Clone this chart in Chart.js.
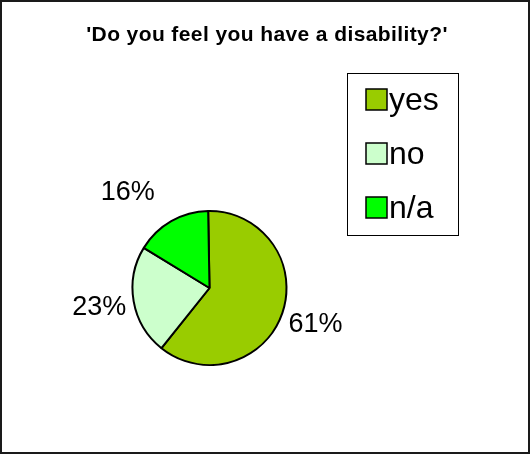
<!DOCTYPE html>
<html>
<head>
<meta charset="utf-8">
<script src="https://cdn.jsdelivr.net/npm/chart.js@4/dist/chart.umd.min.js"></script>
<style>
  html, body { margin: 0; padding: 0; background: #fff; }
  #wrap { width: 531px; height: 455px; }
</style>
</head>
<body>
<div id="wrap"><canvas id="c" width="531" height="455"></canvas></div>
<script>
// Survey answers and their shares (percent)
const categories = ['yes', 'no', 'n/a'];
const shares = [61, 23, 16];
const sliceColors = ['#99CC00', '#CCFFCC', '#00FF00'];
const chartTitle = "'Do you feel you have a disability?'";

const FONT = '"Liberation Sans", Arial, sans-serif';

// White page with a dark frame round the whole chart, plus the heading
const framePlugin = {
  id: 'frame',
  beforeDraw(chart) {
    const ctx = chart.ctx;
    ctx.save();
    ctx.fillStyle = '#ffffff';
    ctx.fillRect(0, 0, chart.width, chart.height);
    ctx.lineWidth = 2;
    ctx.strokeStyle = '#1a1a1a';
    ctx.strokeRect(1, 1, chart.width - 3, chart.height - 3);
    ctx.restore();
  },
  afterDraw(chart, args, o) {
    const ctx = chart.ctx;
    ctx.save();
    ctx.font = 'bold ' + o.titleSize + 'px ' + FONT;
    ctx.fillStyle = '#000';
    ctx.textAlign = 'center';
    ctx.textBaseline = 'alphabetic';
    if ('letterSpacing' in ctx) ctx.letterSpacing = o.titleSpacing + 'px';
    ctx.fillText(chartTitle, o.titleX, o.titleY);
    ctx.restore();
  }
};

// Percent labels placed outside each slice, along its middle angle
const sliceLabelPlugin = {
  id: 'sliceLabels',
  afterDatasetsDraw(chart, args, opts) {
    const ctx = chart.ctx;
    const meta = chart.getDatasetMeta(0);
    ctx.save();
    ctx.font = opts.size + 'px ' + FONT;
    ctx.fillStyle = '#000';
    ctx.textAlign = 'center';
    ctx.textBaseline = 'middle';
    meta.data.forEach((arc, i) => {
      const p = arc.getProps(['x', 'y', 'startAngle', 'endAngle', 'outerRadius'], true);
      const mid = (p.startAngle + p.endAngle) / 2;
      const r = p.outerRadius + opts.gap;
      const nudge = (opts.nudge && opts.nudge[i]) || [0, 0];
      const tx = p.x + Math.cos(mid) * r + nudge[0];
      const ty = p.y + Math.sin(mid) * r + nudge[1];
      ctx.fillText(shares[i] + '%', tx, ty);
    });
    ctx.restore();
  }
};

// Boxed legend on the right
const boxLegendPlugin = {
  id: 'boxLegend',
  afterDraw(chart, args, o) {
    const ctx = chart.ctx;
    ctx.save();
    ctx.lineWidth = 1;
    ctx.strokeStyle = '#000';
    ctx.strokeRect(o.x + 0.5, o.y + 0.5, o.w, o.h);
    ctx.font = o.size + 'px ' + FONT;
    ctx.textAlign = 'left';
    ctx.textBaseline = 'alphabetic';
    categories.forEach((name, i) => {
      const top = o.firstRow + i * o.rowStep;
      ctx.fillStyle = sliceColors[i];
      ctx.fillRect(o.boxX, top, o.box, o.box);
      ctx.lineWidth = 1.5;
      ctx.strokeStyle = '#000';
      ctx.strokeRect(o.boxX, top, o.box, o.box);
      ctx.fillStyle = '#000';
      ctx.fillText(name, o.boxX + o.box + 2, top + o.box);
    });
    ctx.restore();
  }
};

new Chart(document.getElementById('c'), {
  type: 'pie',
  data: {
    labels: categories,
    datasets: [{
      data: shares,
      backgroundColor: sliceColors,
      borderColor: '#000',
      borderWidth: 2,
      borderAlign: 'center'
    }]
  },
  options: {
    responsive: false,
    animation: false,
    rotation: -1,
    layout: { padding: { left: 131, right: 243, top: 210, bottom: 89 } },
    plugins: {
      legend: { display: false },
      tooltip: { enabled: false },
      title: { display: false },
      frame: { titleSize: 21, titleSpacing: 0.4, titleX: 267, titleY: 41 },
      sliceLabels: { size: 27, gap: 35, nudge: [[0, 0], [0, 0], [-26, 2]] },
      boxLegend: { x: 347, y: 73, w: 111, h: 162, boxX: 366, box: 21, firstRow: 89, rowStep: 54, size: 32 }
    }
  },
  plugins: [framePlugin, sliceLabelPlugin, boxLegendPlugin]
});
</script>
</body>
</html>
